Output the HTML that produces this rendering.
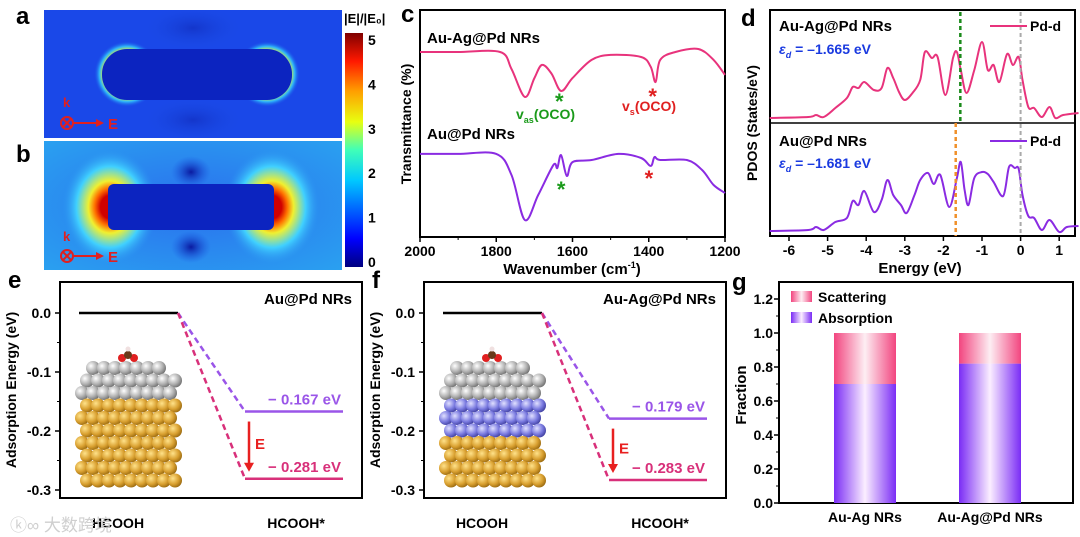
<!DOCTYPE html>
<html><head><meta charset="utf-8">
<style>
html,body{margin:0;padding:0;background:#fff;}
svg{display:block;font-family:"Liberation Sans","Noto Sans CJK SC",sans-serif;font-weight:bold;}
</style></head>
<body>
<svg id="fig" width="1080" height="537" viewBox="0 0 1080 537" xmlns="http://www.w3.org/2000/svg">
<defs>
  <linearGradient id="jet" x1="0" y1="1" x2="0" y2="0">
    <stop offset="0" stop-color="#00007f"/><stop offset="0.12" stop-color="#0000ff"/>
    <stop offset="0.37" stop-color="#00c8ff"/><stop offset="0.5" stop-color="#40ffb8"/>
    <stop offset="0.62" stop-color="#e8ff10"/><stop offset="0.75" stop-color="#ffa000"/>
    <stop offset="0.88" stop-color="#ff1800"/><stop offset="1" stop-color="#7f0000"/>
  </linearGradient>
  <radialGradient id="glowA" cx="0.5" cy="0.5" r="0.5">
    <stop offset="0.74" stop-color="#d0ff50"/><stop offset="0.84" stop-color="#30c8ff"/><stop offset="1" stop-color="#1a48e8" stop-opacity="0"/>
  </radialGradient>
  <radialGradient id="glowB" cx="0.5" cy="0.5" r="0.5">
    <stop offset="0.2" stop-color="#d00000"/><stop offset="0.32" stop-color="#ff7000"/><stop offset="0.45" stop-color="#f0f030"/><stop offset="0.7" stop-color="#40d0ff"/><stop offset="1" stop-color="#2a90f0" stop-opacity="0"/>
  </radialGradient>
  <radialGradient id="bgB" cx="0.5" cy="0.5" r="0.7">
    <stop offset="0" stop-color="#2a70ee"/><stop offset="1" stop-color="#2aa0f0"/>
  </radialGradient>
  <radialGradient id="darkSpot" cx="0.5" cy="0.5" r="0.5">
    <stop offset="0" stop-color="#0a1aa0"/><stop offset="1" stop-color="#1a50e0" stop-opacity="0"/>
  </radialGradient>
  <linearGradient id="purpBar" x1="0" x2="1" y1="0" y2="0">
    <stop offset="0" stop-color="#7a2cf5"/><stop offset="0.5" stop-color="#fbeeff"/><stop offset="1" stop-color="#7a2cf5"/>
  </linearGradient>
  <linearGradient id="pinkBar" x1="0" x2="1" y1="0" y2="0">
    <stop offset="0" stop-color="#f2457f"/><stop offset="0.5" stop-color="#fdeef3"/><stop offset="1" stop-color="#f2457f"/>
  </linearGradient>
  <radialGradient id="gold" cx="0.35" cy="0.35" r="0.7">
    <stop offset="0" stop-color="#ffe28a"/><stop offset="0.6" stop-color="#d9a030"/><stop offset="1" stop-color="#9a6a10"/>
  </radialGradient>
  <radialGradient id="silver" cx="0.35" cy="0.35" r="0.7">
    <stop offset="0" stop-color="#ffffff"/><stop offset="0.6" stop-color="#b0b0b0"/><stop offset="1" stop-color="#707070"/>
  </radialGradient>
  <radialGradient id="blue" cx="0.35" cy="0.35" r="0.7">
    <stop offset="0" stop-color="#e0e0ff"/><stop offset="0.6" stop-color="#7a7ae0"/><stop offset="1" stop-color="#4040a0"/>
  </radialGradient>
  <clipPath id="clipA"><rect x="44" y="10" width="298" height="128"/></clipPath>
  <clipPath id="clipB"><rect x="44" y="141" width="298" height="129"/></clipPath>
</defs>

<!-- Panel a -->
<g clip-path="url(#clipA)">
  <rect x="44" y="10" width="298" height="128" fill="#1a48e8"/>
  <ellipse cx="193" cy="28" rx="50" ry="22" fill="url(#darkSpot)" opacity="0.4"/>
  <ellipse cx="193" cy="120" rx="50" ry="22" fill="url(#darkSpot)" opacity="0.4"/>
  <ellipse cx="127" cy="74" rx="33" ry="33" fill="url(#glowA)" opacity="0.85"/>
  <ellipse cx="267" cy="74" rx="33" ry="33" fill="url(#glowA)" opacity="0.85"/>
  <rect x="102" y="49" width="190" height="51" rx="25" fill="#0c24c0"/>
</g>
<text x="16" y="24" font-size="24" fill="#000">a</text>
<g fill="#e02020" stroke="#e02020">
  <text x="63" y="107" font-size="13" stroke="none">k</text>
  <circle cx="67" cy="123" r="6" fill="none" stroke-width="2"/>
  <path d="M63 119 L71 127 M71 119 L63 127" stroke-width="2"/>
  <line x1="73" y1="123" x2="96" y2="123" stroke-width="2"/>
  <path d="M96 119 L104 123 L96 127Z" stroke="none"/>
  <text x="108" y="129" font-size="15" stroke="none">E</text>
</g>

<!-- Panel b -->
<g clip-path="url(#clipB)">
  <rect x="44" y="141" width="298" height="129" fill="url(#bgB)"/>
  <ellipse cx="191" cy="172" rx="20" ry="16" fill="url(#darkSpot)"/>
  <ellipse cx="191" cy="247" rx="20" ry="16" fill="url(#darkSpot)"/>
  <ellipse cx="110" cy="207" rx="48" ry="58" fill="url(#glowB)"/>
  <ellipse cx="272" cy="207" rx="48" ry="58" fill="url(#glowB)"/>
  <rect x="108" y="184" width="166" height="46" rx="6" fill="#0c24c0"/>
</g>
<text x="16" y="162" font-size="24" fill="#000">b</text>
<g fill="#e02020" stroke="#e02020">
  <text x="63" y="241" font-size="13" stroke="none">k</text>
  <circle cx="67" cy="256" r="6" fill="none" stroke-width="2"/>
  <path d="M63 252 L71 260 M71 252 L63 260" stroke-width="2"/>
  <line x1="73" y1="256" x2="96" y2="256" stroke-width="2"/>
  <path d="M96 252 L104 256 L96 260Z" stroke="none"/>
  <text x="108" y="262" font-size="15" stroke="none">E</text>
</g>

<!-- Colorbar -->
<g>
  <text x="344" y="23" font-size="13">|E|/|E₀|</text>
  <rect x="345" y="33" width="18" height="234" fill="url(#jet)"/>
  <g id="cbTicks" font-size="14"></g>
</g>

<text x="401" y="22" font-size="24">c</text>
<g id="panelC"></g>

<text x="741" y="26" font-size="24">d</text>
<g id="panelD"></g>

<text x="8" y="288" font-size="24">e</text>
<g id="panelE"></g>

<text x="372" y="288" font-size="24">f</text>
<g id="panelF"></g>

<text x="732" y="290" font-size="24">g</text>
<g id="panelG"></g>

<text x="10" y="531" font-size="17" fill="#cfcfcf" font-weight="normal">ⓚ∞ 大数跨境</text>
</svg>

<script>
// ---------- Data ----------
const cbTickLabels = [0,1,2,3,4,5];

const ftirWavenumbersTop = [2000,1900,1790,1760,1725,1700,1680,1655,1630,1600,1550,1500,1420,1395,1382,1370,1330,1270,1230,1200];
const ftirValuesTop =      [81.5,81.5,81.5,74,61.7,70,75.8,72,64.3,70,78,80.2,79.3,75,68.3,78,81.5,82.8,78,71.4];
const ftirWavenumbersBot = [2000,1900,1800,1760,1725,1690,1650,1640,1630,1615,1600,1550,1480,1420,1395,1385,1370,1300,1260,1230,1200];
const ftirValuesBot =      [36.6,36.6,36.6,27.3,7.5,18.5,31.7,30.4,36.1,26.9,33,33.9,36.6,34.8,31.3,35.2,33.9,33.9,29.5,22.9,19.4];
const ftirTicks = [2000,1800,1600,1400,1200];

const pdosEnergyTop = [-6.5,-5.5,-5.3,-5.1,-4.8,-4.5,-4.35,-4.2,-4.05,-3.8,-3.6,-3.45,-3.3,-3.15,-3.0,-2.8,-2.6,-2.48,-2.3,-2.15,-1.95,-1.75,-1.65,-1.55,-1.4,-1.2,-1.0,-0.85,-0.7,-0.55,-0.35,-0.2,-0.05,0.05,0.2,0.35,0.55,0.75,0.9,1.1,1.5];
const pdosValuesTop = [0.5,0.6,0.8,0.6,1.5,2.5,3.6,3.5,4.1,3.3,3.5,5.5,4.5,3.1,2.3,3.0,4.3,7.1,6.5,6.6,2.8,6.5,7.1,5.3,3.0,5.3,8.1,5.3,5.8,4.1,6.9,5.8,6.6,4.3,1.6,1.5,0.6,1.6,0.5,0.8,1.0];
const pdosEnergyBot = [-6.5,-5.5,-5.3,-5.1,-4.8,-4.5,-4.35,-4.2,-4.05,-3.8,-3.6,-3.45,-3.3,-3.1,-2.95,-2.75,-2.6,-2.4,-2.25,-2.08,-1.85,-1.65,-1.55,-1.45,-1.35,-1.2,-1.0,-0.85,-0.7,-0.45,-0.3,-0.15,-0.05,0.05,0.2,0.35,0.55,0.75,1.0,1.2,1.5];
const pdosValuesBot = [0.5,0.6,0.9,0.6,1.4,1.8,3.5,3.1,4.5,2.4,3.6,5.6,4.1,3.1,2.3,4.1,5.6,6.3,5.2,6.1,2.9,5.8,7.4,4.6,3.1,5.8,6.4,6.2,5.4,4.0,6.9,6.8,6.7,4.1,2.0,1.8,0.6,1.6,0.4,0.9,1.0];
const pdosTicks = [-6,-5,-4,-3,-2,-1,0,1];
const dBandCenters = [-1.665,-1.681];

const adsTicks = [0.0,-0.1,-0.2,-0.3];
const adsEnergiesE = [0.0,-0.167,-0.281];
const adsEnergiesF = [0.0,-0.179,-0.283];

const fracCategories = ['Au-Ag NRs','Au-Ag@Pd NRs'];
const fracAbsorption = [0.70,0.82];
const fracScattering = [0.30,0.18];
const fracTicks = [0.0,0.2,0.4,0.6,0.8,1.0,1.2];

// ---------- helpers ----------
const NS='http://www.w3.org/2000/svg';
function mk(parent,tag,attrs,txt){const e=document.createElementNS(NS,tag);for(const k in attrs)e.setAttribute(k,attrs[k]);if(txt!==undefined)e.textContent=txt;parent.appendChild(e);return e;}
function smooth(pts){let d='M'+pts[0][0].toFixed(1)+' '+pts[0][1].toFixed(1);
 for(let i=0;i<pts.length-1;i++){const p0=pts[Math.max(0,i-1)],p1=pts[i],p2=pts[i+1],p3=pts[Math.min(pts.length-1,i+2)];
  const c1=[p1[0]+(p2[0]-p0[0])/6,p1[1]+(p2[1]-p0[1])/6],c2=[p2[0]-(p3[0]-p1[0])/6,p2[1]-(p3[1]-p1[1])/6];
  d+=` C${c1[0].toFixed(1)} ${c1[1].toFixed(1)} ${c2[0].toFixed(1)} ${c2[1].toFixed(1)} ${p2[0].toFixed(1)} ${p2[1].toFixed(1)}`;}
 return d;}

const cb=document.getElementById('cbTicks');
cbTickLabels.forEach(v=>{const y=262-v*44.4;
 const t=mk(cb,'text',{x:368,y:y+5},String(v));
 
 });

// ---------- Panel C ----------
(function(){const g=document.getElementById('panelC');
 const L=420,R=725,T=10,B=237;
 const x=w=>L+(2000-w)/800*(R-L); const y=v=>B-v*2.27;
 mk(g,'rect',{x:L,y:T,width:R-L,height:B-T,fill:'none',stroke:'#000','stroke-width':2});
 ftirTicks.forEach(w=>{mk(g,'line',{x1:x(w),x2:x(w),y1:B,y2:B+5,stroke:'#000','stroke-width':1.5});
  const t=mk(g,'text',{x:x(w),y:B+19,'font-size':14,'text-anchor':'middle'},String(w));
  
  });
 [1900,1700,1500,1300].forEach(w=>mk(g,'line',{x1:x(w),x2:x(w),y1:B,y2:B+3,stroke:'#000'}));
 const p1=mk(g,'path',{d:smooth(ftirWavenumbersTop.map((w,i)=>[x(w),y(ftirValuesTop[i])])),fill:'none',stroke:'#e8337c','stroke-width':2});
 
 
 const p2=mk(g,'path',{d:smooth(ftirWavenumbersBot.map((w,i)=>[x(w),y(ftirValuesBot[i])])),fill:'none',stroke:'#8a2be2','stroke-width':2});
 
 
 mk(g,'text',{x:427,y:43,'font-size':15},'Au-Ag@Pd NRs');
 mk(g,'text',{x:427,y:139,'font-size':15},'Au@Pd NRs');
 mk(g,'text',{x:x(1625)-8,y:109,'font-size':22,fill:'#1a9a1a'},'*');
 mk(g,'text',{x:x(1380)-8,y:104,'font-size':22,fill:'#e02020'},'*');
 mk(g,'text',{x:x(1620)-8,y:197,'font-size':22,fill:'#1a9a1a'},'*');
 mk(g,'text',{x:x(1390)-8,y:186,'font-size':22,fill:'#e02020'},'*');
 const t1=mk(g,'text',{x:516,y:119,'font-size':14,fill:'#1a9a1a'});t1.innerHTML='v<tspan font-size="9" dy="4">as</tspan><tspan dy="-4">(OCO)</tspan>';
 const t2=mk(g,'text',{x:622,y:111,'font-size':14,fill:'#e02020'});t2.innerHTML='v<tspan font-size="9" dy="4">s</tspan><tspan dy="-4">(OCO)</tspan>';
 const yl=mk(g,'text',{x:0,y:0,'font-size':14,'text-anchor':'middle',transform:'translate(411,124) rotate(-90)'},'Transmittance (%)');
 
 const xl=mk(g,'text',{x:572,y:274,'font-size':15,'text-anchor':'middle'});xl.innerHTML='Wavenumber (cm<tspan font-size="9" dy="-6">-1</tspan><tspan dy="6">)</tspan>';
 
})();

// ---------- Panel D ----------
(function(){const g=document.getElementById('panelD');
 const L=770,R=1075,T=10,M=123,B=236;
 const x=e=>789+(e+6)*38.6;
 mk(g,'rect',{x:L,y:T,width:R-L,height:B-T,fill:'none',stroke:'#000','stroke-width':2});
 mk(g,'line',{x1:L,x2:R,y1:M,y2:M,stroke:'#000','stroke-width':1.5});
 pdosTicks.forEach(e=>{mk(g,'line',{x1:x(e),x2:x(e),y1:B,y2:B+5,stroke:'#000','stroke-width':1.5});
  const t=mk(g,'text',{x:x(e),y:B+19,'font-size':14,'text-anchor':'middle'},String(e));
  });
 const p1=mk(g,'path',{d:smooth(pdosEnergyTop.map((e,i)=>[x(e),M-pdosValuesTop[i]*10])),fill:'none',stroke:'#e8337c','stroke-width':2});
 
 const p2=mk(g,'path',{d:smooth(pdosEnergyBot.map((e,i)=>[x(e),B-pdosValuesBot[i]*10])),fill:'none',stroke:'#8a2be2','stroke-width':2});
 
 mk(g,'line',{x1:x(0),x2:x(0),y1:T+2,y2:B,stroke:'#aaa','stroke-width':2,'stroke-dasharray':'4,3'});
 mk(g,'line',{x1:x(dBandCenters[0])+4,x2:x(dBandCenters[0])+4,y1:T+2,y2:M,stroke:'#1a8a1a','stroke-width':2.5,'stroke-dasharray':'4,3'});
 mk(g,'line',{x1:x(dBandCenters[1]),x2:x(dBandCenters[1]),y1:M,y2:B,stroke:'#f0902a','stroke-width':2.5,'stroke-dasharray':'4,3'});
 mk(g,'text',{x:779,y:31,'font-size':15},'Au-Ag@Pd NRs');
 mk(g,'text',{x:779,y:146,'font-size':15},'Au@Pd NRs');
 const e1=mk(g,'text',{x:779,y:54,'font-size':14,fill:'#1a3ae0'});e1.innerHTML='<tspan font-style="italic">ε</tspan><tspan font-size="9" dy="4" font-style="italic">d</tspan><tspan dy="-4"> = –1.665 eV</tspan>';
 const e2=mk(g,'text',{x:779,y:168,'font-size':14,fill:'#1a3ae0'});e2.innerHTML='<tspan font-style="italic">ε</tspan><tspan font-size="9" dy="4" font-style="italic">d</tspan><tspan dy="-4"> = –1.681 eV</tspan>';
 mk(g,'line',{x1:990,x2:1027,y1:26,y2:26,stroke:'#e8337c','stroke-width':2});
 mk(g,'text',{x:1030,y:31,'font-size':14},'Pd-d');
 mk(g,'line',{x1:990,x2:1027,y1:141,y2:141,stroke:'#8a2be2','stroke-width':2});
 mk(g,'text',{x:1030,y:146,'font-size':14},'Pd-d');
 const yl=mk(g,'text',{x:0,y:0,'font-size':14,'text-anchor':'middle',transform:'translate(757,123) rotate(-90)'},'PDOS (States/eV)');
 
 const xl=mk(g,'text',{x:920,y:273,'font-size':15,'text-anchor':'middle'},'Energy (eV)');
 
})();

// ---------- Panels E/F ----------
function adsPanel(id,L,energies,title,middle){const g=document.getElementById(id);
 const R=L+302,T=282,B=498;
 const yy=E=>313+(-E)*590;
 mk(g,'rect',{x:L,y:T,width:R-L,height:B-T,fill:'none',stroke:'#000','stroke-width':2});
 adsTicks.forEach(v=>{mk(g,'line',{x1:L,x2:L-5,y1:yy(v),y2:yy(v),stroke:'#000','stroke-width':1.5});
  const t=mk(g,'text',{x:L-9,y:yy(v)+5,'font-size':14,'text-anchor':'end'},v.toFixed(1));
  });
 [-0.05,-0.15,-0.25].forEach(v=>mk(g,'line',{x1:L,x2:L-3,y1:yy(v),y2:yy(v),stroke:'#000'}));
 const x0=L+19,x1=L+118,x2=L+185,x3=L+283;
 const l0=mk(g,'line',{x1:x0,x2:x1,y1:yy(energies[0]),y2:yy(energies[0]),stroke:'#000','stroke-width':2.5});
 
 mk(g,'path',{d:`M${x1} ${yy(energies[0])} L${x2} ${yy(energies[1])}`,stroke:'#9a55e8','stroke-width':2.5,'stroke-dasharray':'6,4',fill:'none'});
 mk(g,'path',{d:`M${x1} ${yy(energies[0])} L${x2} ${yy(energies[2])}`,stroke:'#d8307a','stroke-width':2.5,'stroke-dasharray':'6,4',fill:'none'});
 const l1=mk(g,'line',{x1:x2,x2:x3,y1:yy(energies[1]),y2:yy(energies[1]),stroke:'#9a55e8','stroke-width':2.5});
 
 const l2=mk(g,'line',{x1:x2,x2:x3,y1:yy(energies[2]),y2:yy(energies[2]),stroke:'#d8307a','stroke-width':2.5});
 
 mk(g,'text',{x:x3-2,y:yy(energies[1])-7,'font-size':15,fill:'#9a55e8','text-anchor':'end'},'− '+(-energies[1]).toFixed(3)+' eV');
 mk(g,'text',{x:x3-2,y:yy(energies[2])-7,'font-size':15,fill:'#d8307a','text-anchor':'end'},'− '+(-energies[2]).toFixed(3)+' eV');
 const ax=x2+4;
 mk(g,'line',{x1:ax,x2:ax,y1:yy(energies[1])+10,y2:yy(energies[2])-14,stroke:'#e82020','stroke-width':2.5});
 mk(g,'path',{d:`M${ax-5} ${yy(energies[2])-16} L${ax+5} ${yy(energies[2])-16} L${ax} ${yy(energies[2])-7}Z`,fill:'#e82020'});
 mk(g,'text',{x:ax+6,y:(yy(energies[1])+yy(energies[2]))/2+4,'font-size':15,fill:'#e82020'},'E');
 mk(g,'text',{x:R-10,y:304,'font-size':15,'text-anchor':'end'},title);
 const yl=mk(g,'text',{x:0,y:0,'font-size':14,'text-anchor':'middle',transform:`translate(${L-44},390) rotate(-90)`},'Adsorption Energy (eV)');
 
 mk(g,'text',{x:L+58,y:528,'font-size':14,'text-anchor':'middle'},'HCOOH');
 mk(g,'text',{x:L+236,y:528,'font-size':14,'text-anchor':'middle'},'HCOOH*');
 const ax0=L+22, ay0=368;
 const m=mk(g,'g',{});
 
 for(let r=0;r<10;r++){for(let c=0;c<9;c++){
   const cx=ax0+c*11+(r%2)*5, cy=ay0+r*12.5;
   let fill='url(#gold)';
   if(r<3) fill='url(#silver)'; else if(middle && r<6) fill='url(#blue)';
   if(r===0 && (c<1||c>7)) continue;
   mk(m,'circle',{cx:cx,cy:cy,r:7,fill:fill});}}
 mk(m,'circle',{cx:ax0+40,cy:ay0-10,r:4,fill:'#e02020'});
 mk(m,'circle',{cx:ax0+52,cy:ay0-10,r:4,fill:'#e02020'});
 mk(m,'circle',{cx:ax0+46,cy:ay0-13,r:4,fill:'#6a3a1a'});
 mk(m,'circle',{cx:ax0+46,cy:ay0-19,r:2.5,fill:'#f0e0e0'});
}
adsPanel('panelE',60,adsEnergiesE,'Au@Pd NRs',false);
adsPanel('panelF',424,adsEnergiesF,'Au-Ag@Pd NRs',true);

// ---------- Panel G ----------
(function(){const g=document.getElementById('panelG');
 const L=779,R=1073,T=282,B=503;
 const y=v=>B-v*170;
 mk(g,'rect',{x:L,y:T,width:R-L,height:B-T,fill:'none',stroke:'#000','stroke-width':2});
 fracTicks.forEach(v=>{mk(g,'line',{x1:L,x2:L-5,y1:y(v),y2:y(v),stroke:'#000','stroke-width':1.5});
  const t=mk(g,'text',{x:L-6,y:y(v)+5,'font-size':14,'text-anchor':'end'},v.toFixed(1));
  });
 [0.1,0.3,0.5,0.7,0.9,1.1].forEach(v=>mk(g,'line',{x1:L,x2:L-3,y1:y(v),y2:y(v),stroke:'#000'}));
 const centers=[865,990];
 fracCategories.forEach((c,i)=>{const cx=centers[i],w=62;
  const a=mk(g,'rect',{x:cx-w/2,y:y(fracAbsorption[i]),width:w,height:B-y(fracAbsorption[i]),fill:'url(#purpBar)'});
  
  const s=mk(g,'rect',{x:cx-w/2,y:y(fracAbsorption[i]+fracScattering[i]),width:w,height:y(fracAbsorption[i])-y(fracAbsorption[i]+fracScattering[i]),fill:'url(#pinkBar)'});
  
  const t=mk(g,'text',{x:cx,y:522,'font-size':14,'text-anchor':'middle'},c);
  });
 mk(g,'rect',{x:791,y:291,width:21,height:11,fill:'url(#pinkBar)'});
 mk(g,'text',{x:818,y:302,'font-size':14},'Scattering');
 mk(g,'rect',{x:791,y:312,width:21,height:11,fill:'url(#purpBar)'});
 mk(g,'text',{x:818,y:323,'font-size':14},'Absorption');
 const yl=mk(g,'text',{x:0,y:0,'font-size':15,'text-anchor':'middle',transform:'translate(746,395) rotate(-90)'},'Fraction');
 
})();
</script>
</body></html>
